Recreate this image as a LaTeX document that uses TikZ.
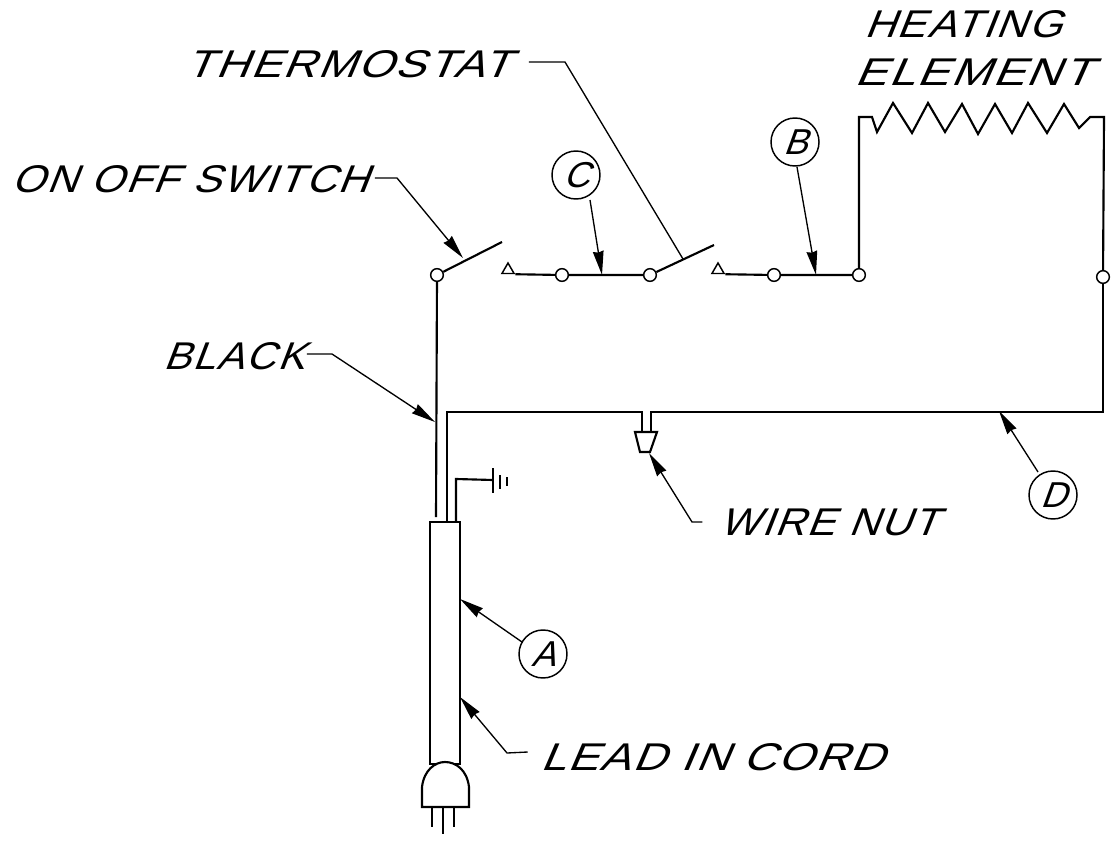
\documentclass[tikz,border=0pt]{standalone}
\usepackage{fontspec}
\usepackage{graphicx}
\usepackage{tikz}
\newfontfamily\letterfont[FakeSlant=0.36,LetterSpace=4]{Liberation Sans}
\usetikzlibrary{shapes,positioning,calc,arrows.meta}
\tikzset{
    wire/.style={line width=1.6pt},
    leader/.style={line width=1pt},
    tipped/.style={leader, -{Stealth[length=18pt,width=8pt,inset=1pt]}},
    term/.style={draw, line width=1.1pt, circle, fill=white, inner sep=0pt, minimum size=9.5pt},
    contact/.style={draw, line width=1.1pt, regular polygon, regular polygon sides=3, inner sep=0pt, minimum size=10.5pt},
    tag/.style={draw, line width=1.1pt, circle, inner sep=0pt, minimum size=36pt, font=\letterfont\fontsize{27}{27}\selectfont},
    callout/.style={inner sep=0pt, font=\letterfont\fontsize{29}{31}\selectfont}
}
\begin{document}
\begin{tikzpicture}[x=0.75pt,y=-0.75pt]
    \useasboundingbox (0,0) rectangle (1119,845);

    % Labels
    \node [callout] (heating) at (963,24) {\resizebox{148pt}{\height}{HEATING}};
    \node [callout] (element) at (973,72) {\resizebox{178pt}{\height}{ELEMENT}};
    \node [callout] (thermostat) at (348,64) {\resizebox{244pt}{\height}{THERMOSTAT}};
    \node [callout] (onoff) at (190,179) {\resizebox{268pt}{\height}{ON OFF SWITCH}};
    \node [callout] (black) at (234,356) {\resizebox{106pt}{\height}{BLACK}};
    \node [callout] (wirenut) at (829,522) {\resizebox{164pt}{\height}{WIRE NUT}};
    \node [callout] (leadin) at (712,757) {\resizebox{258pt}{\height}{LEAD IN CORD}};
    \node [tag] (tagA) at (543,654) {A};
    \node [tag] (tagB) at (795,142) {B};
    \node [tag] (tagC) at (576,175) {C};
    \node [tag] (tagD) at (1053,495) {D};

    % Contacts and terminals
    \node [term] (t1) at (437,275) {};
    \node [contact] (c0) at (508,270) {};
    \node [term] (c1) at (562,275) {};
    \node [term] (c2) at (650,275) {};
    \node [contact] (b0) at (718,270) {};
    \node [term] (b1) at (774,275) {};
    \node [term] (b2) at (859,275) {};
    \node [term] (r1) at (1103,277) {};

    % Switch blades
    \coordinate (bladeA) at (502,242);
    \coordinate (bladeB) at (714,245);
    \draw [wire] (t1) -- (bladeA);
    \draw [wire] (c2) -- (bladeB);

    % Bus wires
    \draw [wire] (c0.corner 3) -- (c1) -- (c2);
    \draw [wire] (b0.corner 3) -- (b1) -- (b2);

    % Heating element
    \draw [wire] (b2) -- (859,117) -- (872,117) -- (877,132) -- (893,103) -- (912,133) -- (928,103)
        -- (945,132) -- (962,104) -- (978,134) -- (995,104) -- (1012,133) -- (1028,103)
        -- (1047,133) -- (1064,104) -- (1079,128) -- (1090,117) -- (1104,117) -- (r1);

    % Cord
    \node [draw, wire, minimum width=22pt, minimum height=182pt, inner sep=0pt] (cord) at (445,643) {};
    \coordinate (blackend) at (436,517);
    \coordinate (whiteend) at (447,522);
    \coordinate (groundend) at (456,522);
    \coordinate (whitecorner) at (447,412);
    \coordinate (nutleft) at (642,432);
    \coordinate (nutright) at (651,432);

    % Neutral and line wires
    \draw [wire] (t1) -- (blackend);
    \draw [wire] (whiteend) -- (whitecorner) -- (642,412) -- (nutleft);
    \draw [wire] (r1) -- (1103,412) -- (651,412) -- (nutright);

    % Wire nut
    \draw [wire, fill=white] (635,432) -- (657,432) -- (650,452) -- (640,452) -- cycle;

    % Ground
    \coordinate (gnd) at (493,480);
    \draw [wire] (groundend) -- (456,479) -- (gnd);
    \draw [wire] (493,468) -- (493,493);
    \draw [wire] (500,475) -- (500,489);
    \draw [wire] (507,477) -- (507,486);

    % Plug
    \draw [wire, fill=white] (422,807) -- (422,787) .. controls (424,770) and (435,762) .. (445,762)
        .. controls (456,762) and (467,770) .. (469,787) -- (469,807) -- cycle;
    \draw [wire] (432,807) -- (432,827);
    \draw [wire] (443,807) -- (443,834);
    \draw [wire] (454,807) -- (454,827);

    % Leaders
    \coordinate (tipon) at (463,258);
    \coordinate (tipth) at (683,259);
    \coordinate (tipc) at (602,275);
    \coordinate (tipb) at (816,275);
    \coordinate (tipblack) at (435,422);
    \coordinate (tipd) at (999,411);
    \coordinate (tipnut) at (649,453);
    \coordinate (tipa) at (460,599);
    \coordinate (tiplead) at (460,697);
    \draw [tipped] (onoff.east) ++(6,-1) -- (397,178) -- (tipon);
    \draw [leader] (thermostat.east) ++(18,-2) -- (565,62) -- (tipth);
    \draw [tipped] (tagC) ++(14,25) -- (tipc);
    \draw [tipped] (tagB) ++(2,25) -- (tipb);
    \draw [tipped] (black.east) ++(2,-2) -- (332,354) -- (tipblack);
    \draw [tipped] (tagD) ++(-15,-23) -- (tipd);
    \draw [tipped] (wirenut.west) ++(-17,0) -- (692,522) -- (tipnut);
    \draw [tipped] (tagA) ++(-21,-12) -- (tipa);
    \draw [tipped] (leadin.west) ++(-12,-5) -- (507,753) -- (tiplead);
\end{tikzpicture}
\end{document}
